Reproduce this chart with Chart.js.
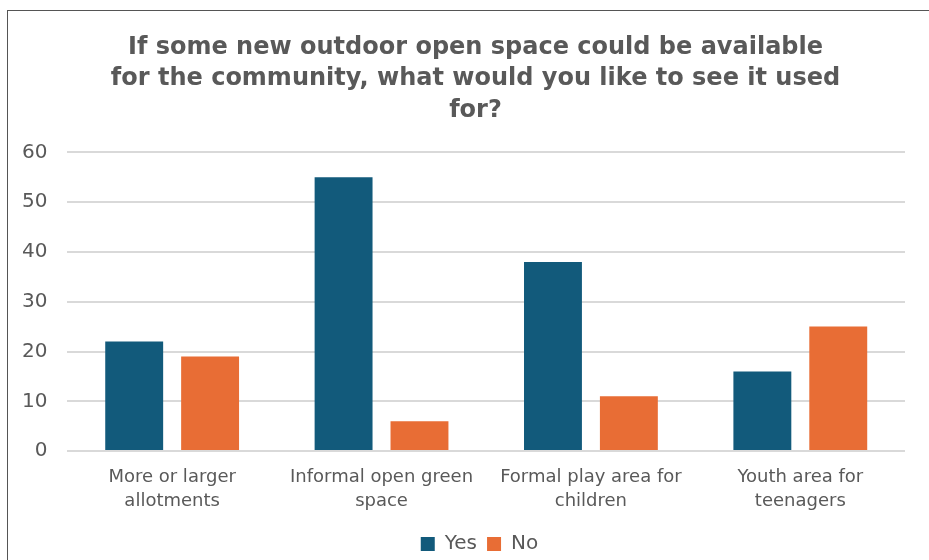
<!DOCTYPE html>
<html>
<head>
<meta charset="utf-8">
<script src="https://cdn.jsdelivr.net/npm/chart.js@4"></script>
<style>
    html, body { margin: 0; padding: 0; background: #fff; overflow: hidden; }
    #frame {
        position: absolute; left: 7px; top: 10px; width: 960px; height: 600px;
        border: 1px solid #555; box-sizing: border-box;
    }
    #wrap { position: absolute; left: 0; top: 0; width: 929px; height: 560px; }
</style>
</head>
<body>
<div id="frame"></div>
<div id="wrap"><canvas id="surveyChart" width="929" height="560"></canvas></div>
<script>
// Survey answers per proposed use
const categories = [
    ["More or larger", "allotments"],
    ["Informal open green", "space"],
    ["Formal play area for", "children"],
    ["Youth area for", "teenagers"]
];
const yesValues = [22, 55, 38, 16];
const noValues = [19, 6, 11, 25];
const yTicks = [0, 10, 20, 30, 40, 50, 60];

const fontFamily = "'DejaVu Sans', sans-serif";

// title and legend sit a little right of the canvas centre
const shiftBlocks = {
    id: "shiftBlocks",
    afterLayout(chart) {
        [[chart.titleBlock, 22], [chart.legend, 26]].forEach(([box, dx]) => {
            if (box) {
                box.left += dx;
                box.right += dx;
            }
        });
    }
};

document.addEventListener("DOMContentLoaded", function () {
    let ctx = document.getElementById("surveyChart").getContext("2d");
    new Chart(ctx, {
        type: "bar",
        data: {
            labels: categories,
            datasets: [
                { label: "Yes", data: yesValues, backgroundColor: "#125a7b" },
                { label: "No", data: noValues, backgroundColor: "#e86d35" }
            ]
        },
        options: {
            responsive: false,
            animation: false,
            categoryPercentage: 0.725,
            barPercentage: 0.763,
            layout: { padding: { left: 2, right: 24, top: 32, bottom: -4 } },
            plugins: {
                title: {
                    display: true,
                    text: [
                        "If some new outdoor open space could be available",
                        "for the community, what would you like to see it used",
                        "for?"
                    ],
                    color: "#595959",
                    font: { family: fontFamily, size: 24, weight: "bold", lineHeight: 1.31 },
                    padding: { top: 0, bottom: 26 }
                },
                legend: {
                    position: "bottom",
                    labels: {
                        color: "#595959",
                        font: { family: fontFamily, size: 20 },
                        boxWidth: 14,
                        boxHeight: 14,
                        padding: 10
                    }
                },
                tooltip: { enabled: false }
            },
            scales: {
                x: {
                    grid: { display: false },
                    border: { display: false },
                    afterFit: function (axis) {
                        // a little air between the category labels and the legend
                        axis.height += 5;
                    },
                    ticks: {
                        color: "#595959",
                        font: { family: fontFamily, size: 18, lineHeight: 1.33 },
                        maxRotation: 0,
                        padding: 6
                    }
                },
                y: {
                    min: 0,
                    max: 60,
                    afterBuildTicks: function (axis) {
                        axis.ticks = yTicks.map(v => ({ value: v }));
                    },
                    grid: { color: "#d9d9d9", lineWidth: 2, drawTicks: false },
                    border: { display: false },
                    ticks: {
                        color: "#595959",
                        font: { family: fontFamily, size: 20 },
                        padding: 20
                    }
                }
            }
        },
        plugins: [shiftBlocks]
    });
});
</script>
</body>
</html>
